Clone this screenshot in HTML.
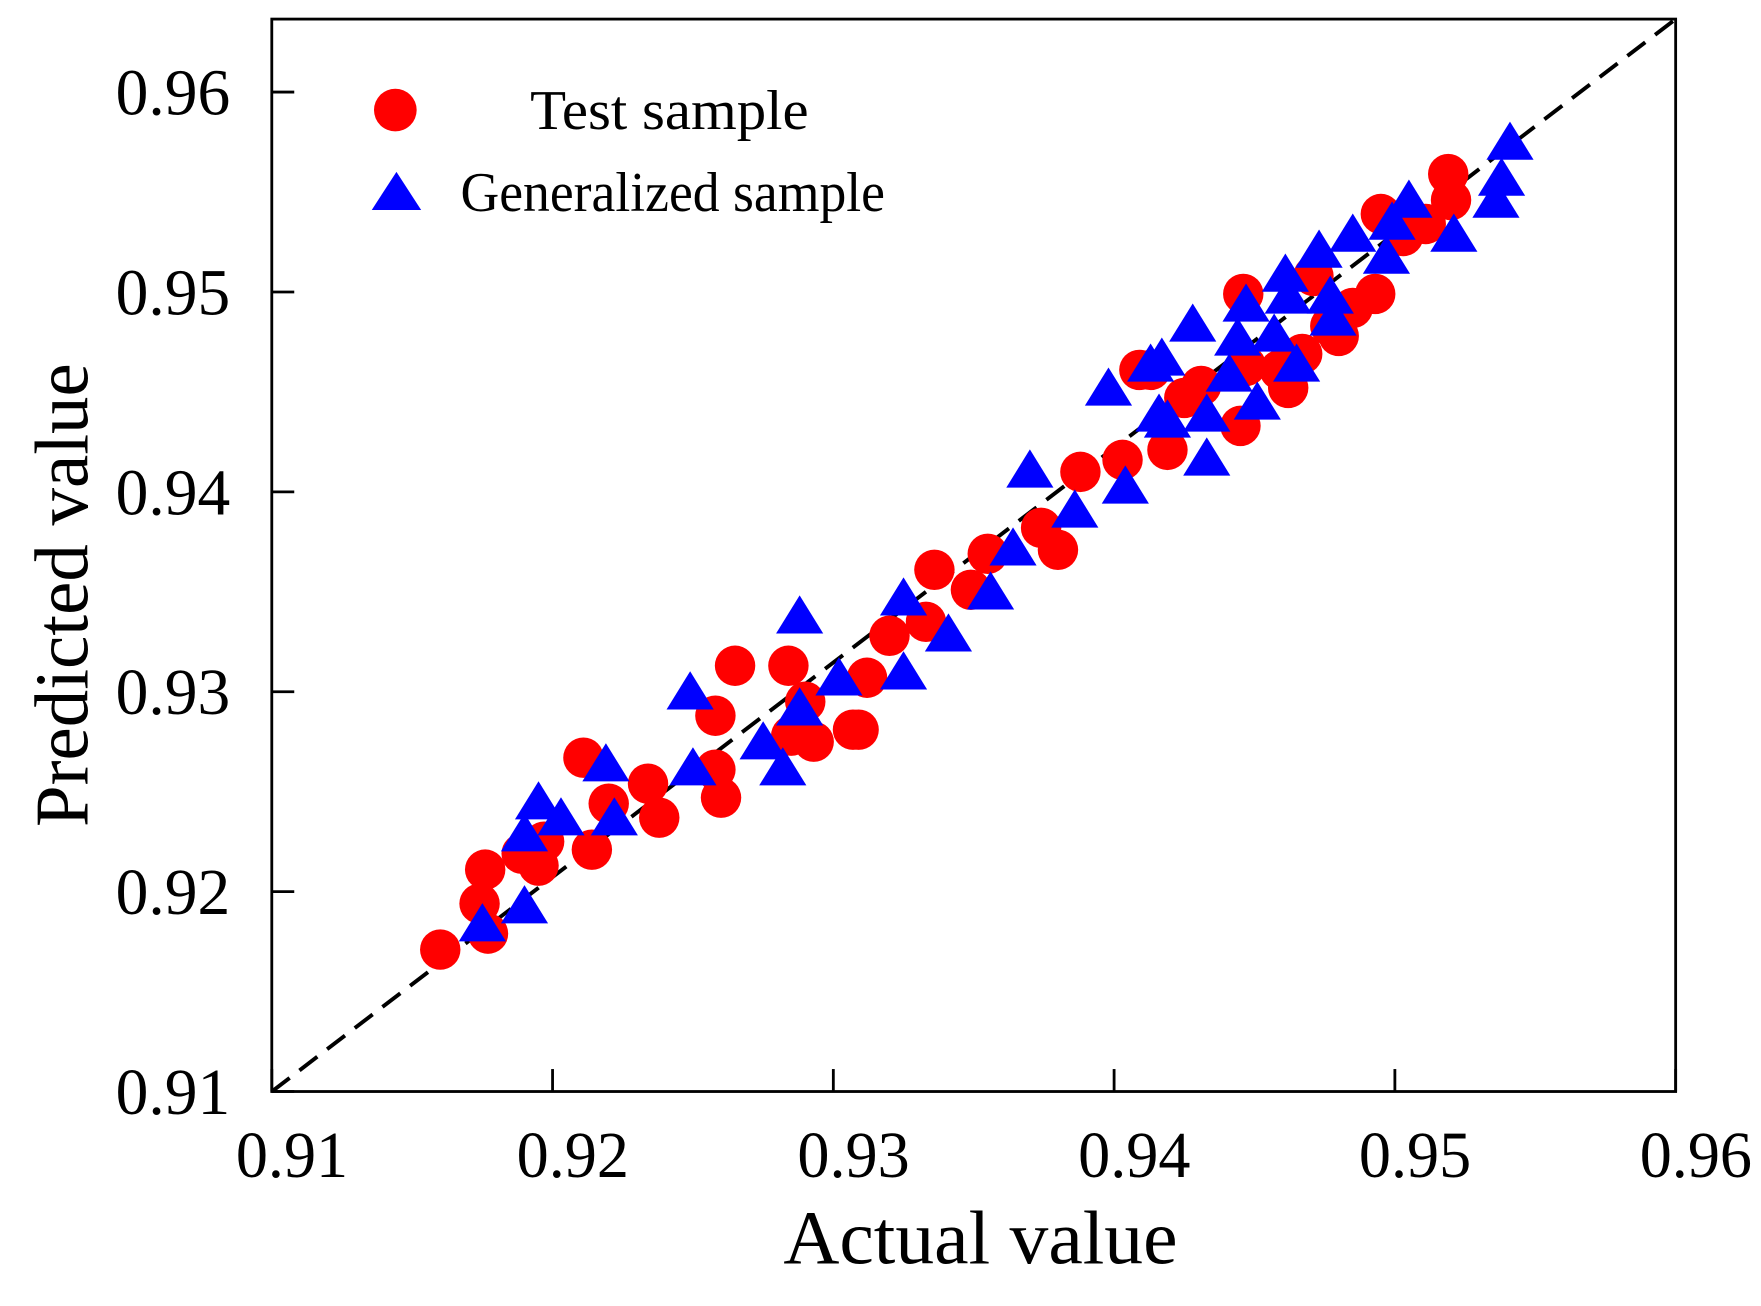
<!DOCTYPE html>
<html><head><meta charset="utf-8"><style>
html,body{margin:0;padding:0;background:#fff;}
svg{display:block;font-family:"Liberation Serif",serif;}
</style></head><body>
<svg id="chart" width="1761" height="1306" viewBox="0 0 1568 1163" preserveAspectRatio="none" xmlns="http://www.w3.org/2000/svg">
<rect x="0" y="0" width="1568" height="1163" fill="#fff"/>
<g id="ticks"></g>
<line id="refline" x1="242" y1="972" x2="1492" y2="17" stroke="#000" stroke-width="3.5" stroke-dasharray="20,11"/>
<g id="marks"></g>
<rect x="242" y="17" width="1250" height="955" fill="none" stroke="#000" stroke-width="2.5"/>
<g>
<circle cx="352" cy="98" r="19" fill="#ff0000"/>
<text x="472" y="115" font-size="50" textLength="248" lengthAdjust="spacingAndGlyphs">Test sample</text>
<polygon points="353,153 375,187 331,187" fill="#0000ff"/>
<text x="410" y="188" font-size="50" textLength="378" lengthAdjust="spacingAndGlyphs">Generalized sample</text>
</g>
<text x="873" y="1125" font-size="68" text-anchor="middle" textLength="351" lengthAdjust="spacingAndGlyphs">Actual value</text>
<text transform="translate(78,530) rotate(-90)" font-size="68" text-anchor="middle" textLength="413" lengthAdjust="spacingAndGlyphs">Predicted value</text>
</svg>
<script>
const xTicks = [0.91, 0.92, 0.93, 0.94, 0.95, 0.96];
const yTicks = [0.91, 0.92, 0.93, 0.94, 0.95, 0.96];
const testActual = [.9160,.9174,.9176,.9177,.9189,.9195,.9197,.9211,.9214,.9220,.9234,.9238,.9258,.9258,.9260,.9265,.9284,.9285,.9290,.9293,.9307,.9309,.9312,.9320,.9333,.9336,.9349,.9355,.9374,.9380,.9388,.9403,.9409,.9413,.9419,.9425,.9431,.9445,.9446,.9447,.9459,.9462,.9467,.9471,.9477,.9480,.9485,.9493,.9495,.9503,.9511,.9519,.9520];
const testPred = [.9171,.9194,.9211,.9179,.9219,.9213,.9225,.9267,.9221,.9244,.9254,.9237,.9288,.9261,.9247,.9313,.9313,.9278,.9295,.9275,.9281,.9281,.9307,.9328,.9335,.9361,.9351,.9369,.9382,.9371,.9410,.9416,.9461,.9461,.9421,.9447,.9453,.9433,.9499,.9463,.9461,.9452,.9469,.9508,.9483,.9478,.9492,.9499,.9539,.9528,.9534,.9559,.9546];
const genActual = [.9175,.9190,.9190,.9195,.9203,.9219,.9222,.9249,.9250,.9275,.9282,.9288,.9288,.9302,.9325,.9325,.9341,.9356,.9364,.9370,.9386,.9398,.9404,.9413,.9416,.9417,.9419,.9428,.9433,.9433,.9441,.9444,.9447,.9451,.9457,.9461,.9462,.9465,.9473,.9477,.9478,.9485,.9497,.9499,.9505,.9521,.9536,.9538,.9541];
const genPred = [.9183,.9192,.9228,.9244,.9236,.9263,.9236,.9299,.9261,.9274,.9261,.9291,.9337,.9306,.9346,.9309,.9328,.9349,.9371,.9410,.9390,.9451,.9402,.9463,.9438,.9466,.9435,.9483,.9416,.9438,.9458,.9476,.9493,.9444,.9478,.9508,.9497,.9463,.9520,.9497,.9486,.9528,.9517,.9534,.9545,.9528,.9545,.9556,.9574];

const NS = "http://www.w3.org/2000/svg";
function xs(v){ return 242 + (v - 0.91) * 25000; }
function ys(v){ return 972 - (v - 0.91) * 17800; }

const ticks = document.getElementById('ticks');
xTicks.forEach(function(t){
  const l = document.createElementNS(NS,'line');
  
  
  l.setAttribute('x1',xs(t)); l.setAttribute('x2',xs(t));
  l.setAttribute('y1',972); l.setAttribute('y2',952);
  l.setAttribute('stroke','#000'); l.setAttribute('stroke-width','2.5');
  ticks.appendChild(l);
  const tx = document.createElementNS(NS,'text');
  
  
  tx.setAttribute('x',xs(t)+18); tx.setAttribute('y',1048);
  tx.setAttribute('font-size','58'); tx.setAttribute('text-anchor','middle');
  tx.setAttribute('textLength','100'); tx.setAttribute('lengthAdjust','spacingAndGlyphs');
  tx.textContent = t.toFixed(2);
  ticks.appendChild(tx);
});
yTicks.forEach(function(t){
  const l = document.createElementNS(NS,'line');
  
  
  l.setAttribute('x1',242); l.setAttribute('x2',262);
  l.setAttribute('y1',ys(t)); l.setAttribute('y2',ys(t));
  l.setAttribute('stroke','#000'); l.setAttribute('stroke-width','2.5');
  ticks.appendChild(l);
  const tx = document.createElementNS(NS,'text');
  
  
  tx.setAttribute('x',103); tx.setAttribute('y',ys(t)+20);
  tx.setAttribute('font-size','58'); tx.setAttribute('text-anchor','start');
  tx.setAttribute('textLength','102'); tx.setAttribute('lengthAdjust','spacingAndGlyphs');
  tx.textContent = t.toFixed(2);
  ticks.appendChild(tx);
});

const marks = document.getElementById('marks');
testActual.forEach(function(a,i){
  const c = document.createElementNS(NS,'circle');
  
  
  c.setAttribute('cx',xs(a)); c.setAttribute('cy',ys(testPred[i]));
  c.setAttribute('r',18); c.setAttribute('fill','#ff0000');
  marks.appendChild(c);
});
genActual.forEach(function(a,i){
  const cx = xs(a), cy = ys(genPred[i]);
  const p = document.createElementNS(NS,'polygon');
  
  
  p.setAttribute('points',cx+','+(cy-20)+' '+(cx+21)+','+(cy+14)+' '+(cx-21)+','+(cy+14));
  p.setAttribute('fill','#0000ff');
  marks.appendChild(p);
});
</script>
</body></html>
